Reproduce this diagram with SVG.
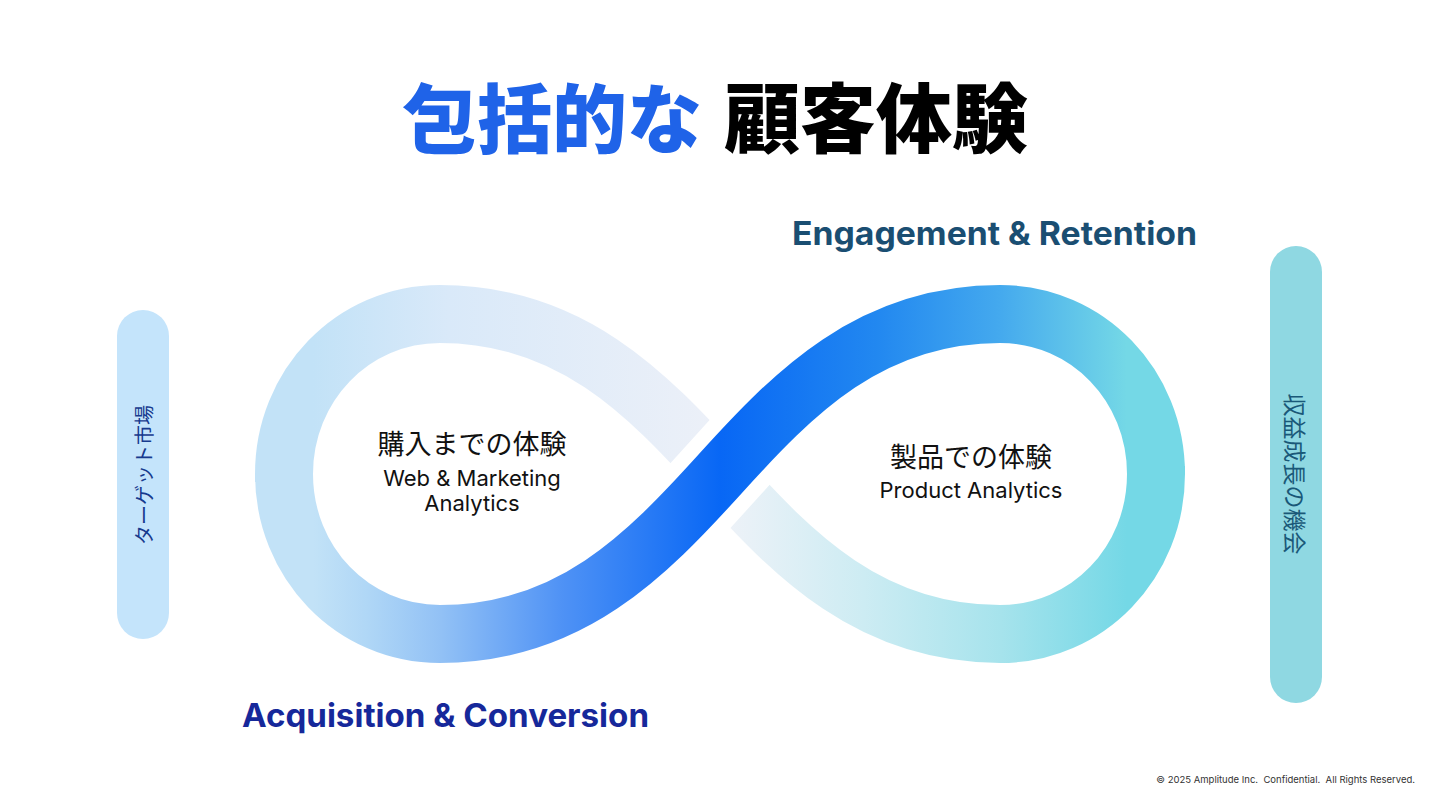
<svg xmlns="http://www.w3.org/2000/svg" width="1440" height="810" viewBox="0 0 1440 810">
<style>
.band{fill:none;stroke-width:58;stroke-linecap:butt;stroke-linejoin:round}
.jp{font-family:"Noto Sans CJK JP","Noto Sans",sans-serif}
.lat{font-family:Inter,"Noto Sans",sans-serif}
.head{font-family:Inter,"Noto Sans",sans-serif;font-weight:700;font-size:32px}
</style>
<defs>
<linearGradient id="gMain" gradientUnits="userSpaceOnUse" x1="255" y1="0" x2="1185" y2="0">
<stop offset="0" stop-color="#c2e2f7"/>
<stop offset="0.063" stop-color="#c2e2f7"/>
<stop offset="0.12" stop-color="#b0d7f6"/>
<stop offset="0.2" stop-color="#92c1f5"/>
<stop offset="0.33" stop-color="#4f92f5"/>
<stop offset="0.5" stop-color="#0867f5"/>
<stop offset="0.67" stop-color="#2288f0"/>
<stop offset="0.8" stop-color="#44a9ee"/>
<stop offset="0.937" stop-color="#74d8e6"/>
<stop offset="1" stop-color="#74d8e6"/>
</linearGradient>
<linearGradient id="gTL" gradientUnits="userSpaceOnUse" x1="255" y1="0" x2="715" y2="0">
<stop offset="0" stop-color="#c2e2f7"/>
<stop offset="0.126" stop-color="#c2e2f7"/>
<stop offset="0.42" stop-color="#d9e9f9"/>
<stop offset="1" stop-color="#ecf0f8"/>
</linearGradient>
<linearGradient id="gBR" gradientUnits="userSpaceOnUse" x1="725" y1="0" x2="1185" y2="0">
<stop offset="0" stop-color="#eef2f8"/>
<stop offset="0.3" stop-color="#cdecf3"/>
<stop offset="0.6" stop-color="#a6e3ec"/>
<stop offset="0.874" stop-color="#74d8e6"/>
<stop offset="1" stop-color="#74d8e6"/>
</linearGradient>
</defs>
<rect width="1440" height="810" fill="#ffffff"/>

<g id="title">
<text class="jp" x="402" y="147" font-size="75" font-weight="900" fill="#1f63e8">包括的な</text>
<text class="jp" x="724" y="147" font-size="76" font-weight="900" fill="#000000">顧客体験</text>
</g>

<g id="connectors">
<path id="loop-top-left" class="band" stroke="url(#gTL)" d="M720 474 C646.3 392.6 570 314 440 314 C352 314 284 386 284 474 L284 482"/>
<path id="loop-bottom-right" class="band" stroke="url(#gBR)" d="M720 474 C793.7 555.4 870 634 1000 634 C1088 634 1156 562 1156 474 L1156 466"/>
<path id="gap" fill="none" stroke="#ffffff" stroke-width="88" d="M673.1 525.8 L766.9 422.2"/>
<path id="main-sweep" class="band" stroke="url(#gMain)" d="M284 474 C284 562 352 634 440 634 C570 634 646.3 555.4 720 474 C793.7 392.6 870 314 1000 314 C1088 314 1156 386 1156 474"/>
</g>

<g id="node-left">
<text class="jp" x="472" y="454" font-size="27" text-anchor="middle" fill="#111">購入までの体験</text>
<text class="lat" x="472" y="486" font-size="22" text-anchor="middle" fill="#111">Web &amp; Marketing</text>
<text class="lat" x="472" y="511" font-size="22" text-anchor="middle" fill="#111">Analytics</text>
</g>

<g id="node-right">
<text class="jp" x="971" y="467" font-size="27" text-anchor="middle" fill="#111">製品での体験</text>
<text class="lat" x="971" y="498" font-size="22" text-anchor="middle" fill="#111">Product Analytics</text>
</g>

<g id="label-engagement">
<text class="head" x="792" y="245" fill="#1a4e72" textLength="405" lengthAdjust="spacingAndGlyphs">Engagement &amp; Retention</text>
</g>
<g id="label-acquisition">
<text class="head" x="242" y="727" fill="#16289a" textLength="407" lengthAdjust="spacingAndGlyphs">Acquisition &amp; Conversion</text>
</g>

<g id="pill-left">
<rect x="117" y="310" width="52" height="329" rx="26" fill="#c4e4fb"/>
<text class="jp" transform="translate(143 475) rotate(-90)" font-size="20" text-anchor="middle" dominant-baseline="central" fill="#173a8e">ターゲット市場</text>
</g>

<g id="pill-right">
<rect x="1270" y="246" width="52" height="457" rx="26" fill="#8fd8e2"/>
<text class="jp" transform="translate(1296 474) rotate(90)" font-size="23" text-anchor="middle" dominant-baseline="central" fill="#1a5878">収益成長の機会</text>
</g>

<g id="footer">
<text class="lat" x="1415" y="783" font-size="9.5" text-anchor="end" fill="#333" xml:space="preserve">© 2025 Amplitude Inc.  Confidential.  All Rights Reserved.</text>
</g>
</svg>
